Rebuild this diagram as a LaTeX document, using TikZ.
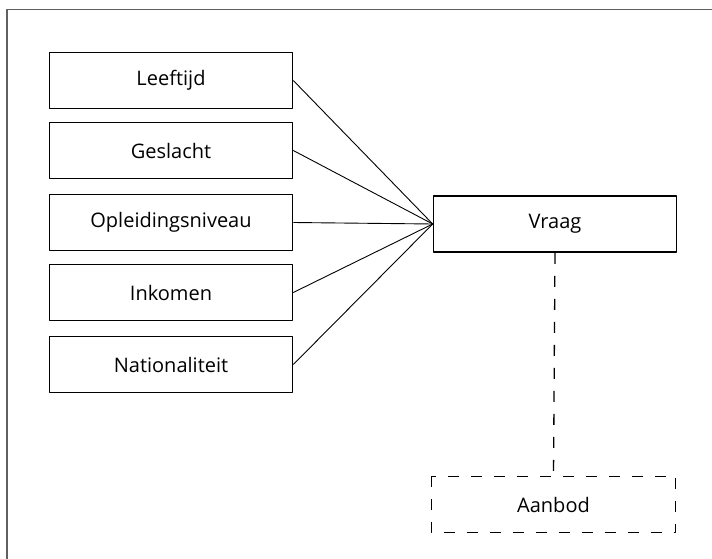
\documentclass[tikz,border=0pt]{standalone}
\usepackage{fontspec}
\setmainfont{Open Sans}
\begin{document}
\begin{tikzpicture}[x=1pt,y=-1pt,line join=round,font=\fontsize{20}{24}\selectfont,
	vak/.style={draw,line width=1.6pt,minimum width=243pt,minimum height=56pt,inner sep=0pt},
	streep/.style={line width=1.3pt,dash pattern=on 11pt off 12pt}]
			\useasboundingbox (0,0) rectangle (712,559);
			\draw[gray!75!black,line width=1.6pt] (7,559)--(7,9.5)--(712,9.5); %%%kader
			\node[vak] (leeftijd) at (171,80.5) {Leeftijd};
			\node[vak] (geslacht) at (171,150.5) {Geslacht};
			\node[vak] (opleiding) at (171,222.5) {Opleidingsniveau};
			\node[vak] (inkomen) at (171,292.5) {Inkomen};
			\node[vak] (nationaliteit) at (171,364.5) {Nationaliteit};
			\node[vak] (vraag) at (555,224) {Vraag};
			\node[vak,draw=none,minimum height=55pt] (aanbod) at (553.5,504.5) {Aanbod};
			\draw[streep] (aanbod.north west) rectangle (aanbod.south east); %%%% gestippeld
			\foreach \n in {leeftijd,geslacht,opleiding,inkomen,nationaliteit}
				\draw[line width=0.9pt] (\n.east)--(vraag.west);
			\draw[streep] (vraag.south)--(aanbod.north);
		\end{tikzpicture}
\end{document}
